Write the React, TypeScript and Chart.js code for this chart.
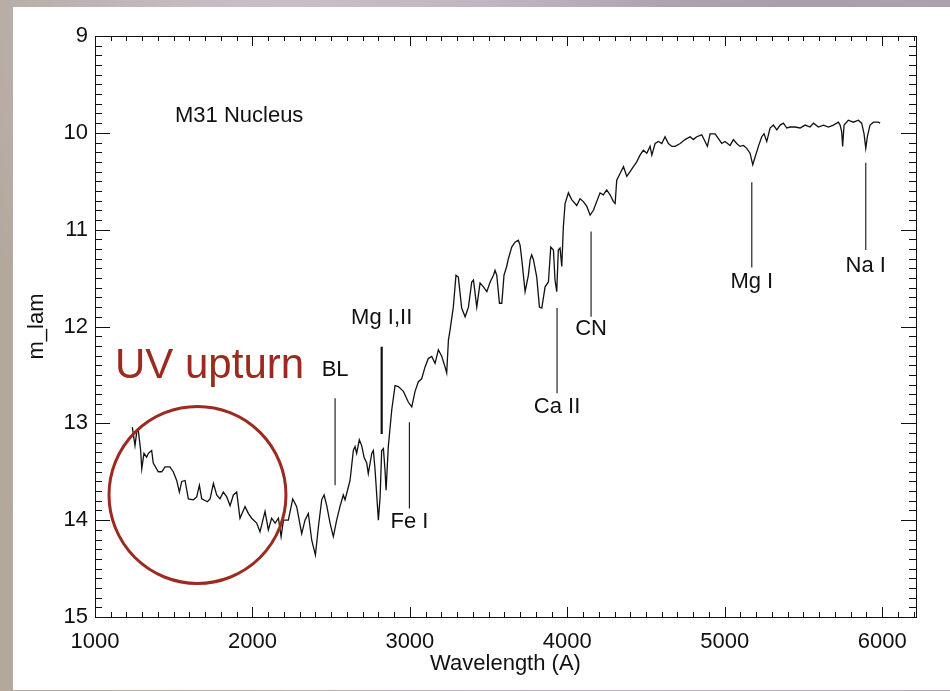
import React, { useEffect, useRef } from "react";
import { Chart, registerables } from "chart.js";

Chart.register(...registerables);

// ---- data ----
const wavelengths = [
  1237, 1254, 1265, 1275, 1290, 1297, 1311, 1328, 1339, 1360, 1370, 1402, 1424, 1445, 1476, 1497,
  1519, 1536, 1551, 1572, 1593, 1625, 1646, 1663, 1678, 1714, 1731, 1752, 1773, 1794, 1815, 1837,
  1858, 1879, 1900, 1921, 1953, 1974, 1995, 2027, 2048, 2080, 2101, 2122, 2144, 2165, 2182, 2197,
  2228, 2256, 2281, 2313, 2334, 2355, 2377, 2400, 2419, 2440, 2455, 2472, 2493, 2514, 2535, 2556,
  2577, 2588, 2609, 2620, 2641, 2652, 2662, 2679, 2694, 2709, 2726, 2736, 2758, 2768, 2779, 2800,
  2811, 2821, 2832, 2842, 2849, 2863, 2885, 2906, 2927, 2959, 2990, 3012, 3033, 3054, 3075, 3096,
  3117, 3139, 3160, 3181, 3203, 3224, 3234, 3245, 3255, 3276, 3293, 3308, 3329, 3351, 3372, 3393,
  3404, 3425, 3446, 3467, 3489, 3510, 3531, 3541, 3552, 3569, 3584, 3598, 3615, 3626, 3647, 3668,
  3689, 3700, 3711, 3732, 3753, 3764, 3774, 3785, 3806, 3823, 3838, 3859, 3880, 3895, 3912, 3922,
  3933, 3943, 3954, 3965, 3975, 3986, 4007, 4028, 4060, 4081, 4102, 4124, 4145, 4166, 4187, 4208,
  4229, 4250, 4272, 4293, 4304, 4314, 4335, 4357, 4378, 4399, 4420, 4441, 4462, 4483, 4505, 4526,
  4537, 4558, 4579, 4600, 4621, 4642, 4664, 4685, 4717, 4748, 4780, 4801, 4822, 4854, 4875, 4890,
  4907, 4939, 4960, 4981, 5002, 5034, 5055, 5076, 5097, 5119, 5140, 5161, 5178, 5193, 5214, 5235,
  5250, 5267, 5288, 5309, 5331, 5352, 5373, 5394, 5415, 5447, 5479, 5511, 5542, 5564, 5595, 5627,
  5659, 5690, 5722, 5733, 5743, 5749, 5758, 5785, 5817, 5849, 5870, 5885, 5896, 5906, 5923, 5945,
  5976, 5987,
];
const magnitudes = [
  13.04, 13.23, 13.09, 13.07, 13.28, 13.47, 13.31, 13.35, 13.31, 13.28, 13.41, 13.5, 13.5, 13.45, 13.45, 13.5,
  13.59, 13.71, 13.6, 13.59, 13.78, 13.79, 13.76, 13.64, 13.78, 13.81, 13.78, 13.62, 13.74, 13.78, 13.71, 13.76,
  13.85, 13.74, 13.71, 13.98, 13.86, 13.93, 13.98, 14.03, 14.12, 13.91, 14.1, 13.98, 14.03, 13.98, 14.17, 14.0,
  14.0, 13.78, 13.86, 14.14, 14.0, 13.93, 14.21, 14.36, 14.07, 13.79, 13.74, 13.85, 14.03, 14.17, 14.0, 13.86,
  13.74, 13.79, 13.66, 13.59, 13.28, 13.24, 13.31, 13.17, 13.23, 13.35, 13.41, 13.52, 13.31, 13.28, 13.48, 14.0,
  13.76, 13.28, 13.26, 13.48, 13.69, 13.24, 12.86, 12.61, 12.62, 12.67, 12.78, 12.83, 12.67, 12.57, 12.54, 12.42,
  12.33, 12.31, 12.38, 12.24, 12.31, 12.42, 12.48, 12.14, 12.04, 11.8, 11.47, 11.49, 11.81, 11.9, 11.8, 11.54,
  11.52, 11.8, 11.55, 11.59, 11.64, 11.54, 11.47, 11.42, 11.47, 11.76, 11.76, 11.47, 11.38, 11.3, 11.18, 11.13,
  11.11, 11.16, 11.31, 11.64, 11.47, 11.31, 11.26, 11.31, 11.49, 11.8, 11.81, 11.59, 11.54, 11.18, 11.21, 11.52,
  11.64, 11.21, 11.19, 11.38, 10.97, 10.73, 10.62, 10.69, 10.75, 10.68, 10.71, 10.76, 10.85, 10.8, 10.71, 10.62,
  10.64, 10.59, 10.64, 10.71, 10.73, 10.49, 10.42, 10.35, 10.45, 10.4, 10.35, 10.3, 10.23, 10.18, 10.21, 10.14,
  10.23, 10.11, 10.09, 10.11, 10.04, 10.11, 10.14, 10.14, 10.11, 10.07, 10.04, 10.07, 10.04, 10.02, 10.09, 10.14,
  10.01, 10.01, 10.06, 10.11, 10.09, 10.13, 10.07, 10.11, 10.14, 10.13, 10.16, 10.21, 10.33, 10.25, 10.14, 10.04,
  10.01, 10.09, 9.95, 9.92, 9.97, 9.92, 9.9, 9.95, 9.94, 9.94, 9.95, 9.92, 9.94, 9.9, 9.94, 9.92,
  9.94, 9.92, 9.89, 9.92, 9.99, 10.14, 9.92, 9.87, 9.89, 9.87, 9.9, 10.01, 10.16, 10.04, 9.92, 9.89,
  9.89, 9.9,
];

const xTickLabels = [1000, 2000, 3000, 4000, 5000, 6000];
const yTickLabels = [9, 10, 11, 12, 13, 14, 15];

const lineNames = ["BL", "Mg I,II", "Fe I", "Ca II", "CN", "Mg I", "Na I"];
const lineWaves = [2525, 2821, 2997, 3935, 4151, 5172, 5896];
const lineTops = [12.74, 12.21, 12.99, 11.81, 11.02, 10.51, 10.31];
const lineBottoms = [13.64, 13.11, 13.88, 12.69, 11.9, 11.39, 11.21];
const labelMags = [12.45, 11.91, 14.02, 12.83, 12.03, 11.54, 11.37];

const titleText = "M31 Nucleus";
const titlePos = [1508, 9.83];
const upturnText = "UV upturn";
const upturnPos = [1127, 12.533];
const circleCenter = [1651, 13.74];
const circleRadiusWave = 562;

const FONT = "'Liberation Sans', Arial, Helvetica, sans-serif";
const RED = "#9b2a1f";
const INK = "#111111";

const decorPlugin = {
  id: "decor",
  afterDatasetsDraw(chart: any) {
    const { ctx, chartArea: a, scales } = chart;
    const x = scales.x;
    const y = scales.y;
    ctx.save();
    ctx.strokeStyle = INK;
    ctx.lineWidth = 1;
    // frame
    ctx.strokeRect(Math.round(a.left) + 0.5, Math.round(a.top) + 0.5, Math.round(a.right - a.left), Math.round(a.bottom - a.top));
    // x ticks (bottom & top, inward)
    ctx.beginPath();
    for (let i = 0; i <= 52; i++) {
      const v = 1000 + i * 100;
      const px = Math.round(x.getPixelForValue(v)) + 0.5;
      const len = i % 10 === 0 ? 10 : 5;
      ctx.moveTo(px, a.bottom);
      ctx.lineTo(px, a.bottom - len);
      ctx.moveTo(px, a.top);
      ctx.lineTo(px, a.top + len);
    }
    // y ticks (left & right, inward)
    for (let i = 0; i <= 60; i++) {
      const v = 9 + i / 10;
      const py = Math.round(y.getPixelForValue(v)) + 0.5;
      const len = i % 10 === 0 ? 15 : 7;
      ctx.moveTo(a.left, py);
      ctx.lineTo(a.left + len, py);
      ctx.moveTo(a.right, py);
      ctx.lineTo(a.right - len, py);
    }
    ctx.stroke();

    // line labels
    ctx.fillStyle = INK;
    ctx.font = `22px ${FONT}`;
    ctx.textAlign = "center";
    ctx.textBaseline = "middle";
    lineNames.forEach((n, i) => {
      ctx.fillText(n, x.getPixelForValue(lineWaves[i]), y.getPixelForValue(labelMags[i]));
    });
    // title text
    ctx.textAlign = "left";
    ctx.fillText(titleText, x.getPixelForValue(titlePos[0]), y.getPixelForValue(titlePos[1]));

    // UV upturn
    ctx.fillStyle = RED;
    ctx.font = `42px ${FONT}`;
    ctx.textBaseline = "alphabetic";
    ctx.fillText(upturnText, x.getPixelForValue(upturnPos[0]), y.getPixelForValue(upturnPos[1]));

    // circle
    const cx = x.getPixelForValue(circleCenter[0]);
    const cy = y.getPixelForValue(circleCenter[1]);
    const r = Math.abs(x.getPixelForValue(circleCenter[0] + circleRadiusWave) - cx);
    ctx.strokeStyle = RED;
    ctx.lineWidth = 3;
    ctx.beginPath();
    ctx.arc(cx, cy, r, 0, Math.PI * 2);
    ctx.stroke();
    ctx.restore();
  },
};

export default function App() {
  const ref = useRef<HTMLCanvasElement | null>(null);

  useEffect(() => {
    if (!ref.current) return;
    const spectrum = wavelengths.map((w, i) => ({ x: w, y: magnitudes[i] }));
    const markerSets = lineNames.map((n, i) => ({
      label: n,
      data: [
        { x: lineWaves[i], y: lineTops[i] },
        { x: lineWaves[i], y: lineBottoms[i] },
      ],
      borderColor: INK,
      borderWidth: n === "Mg I,II" ? 2.2 : 1.1,
      pointRadius: 0,
      tension: 0,
    }));
    const chart = new Chart(ref.current, {
      type: "line",
      data: {
        datasets: [
          {
            label: "M31 Nucleus",
            data: spectrum,
            borderColor: INK,
            borderWidth: 1.3,
            pointRadius: 0,
            tension: 0,
          },
          ...markerSets,
        ],
      },
      options: {
        responsive: false,
        animation: false,
        devicePixelRatio: 1,
        layout: { padding: { top: 29, right: 34, left: 0, bottom: 0 } },
        plugins: { legend: { display: false }, tooltip: { enabled: false } },
        scales: {
          x: {
            type: "linear",
            min: 1000,
            max: 6215,
            grid: { display: false, drawTicks: false },
            border: { display: false },
            afterBuildTicks: (s: any) => {
              s.ticks = xTickLabels.map((v) => ({ value: v }));
            },
            ticks: {
              autoSkip: false,
              maxRotation: 0,
              minRotation: 0,
              padding: 12,
              color: INK,
              font: { size: 22, family: FONT },
              callback: (v: any) => String(v),
            },
            title: {
              display: true,
              text: "Wavelength (A)",
              color: INK,
              font: { size: 22, family: FONT },
              padding: { top: 0, bottom: 13 },
            },
            afterFit: (s: any) => {
              s.height = 73;
            },
          },
          y: {
            type: "linear",
            min: 9,
            max: 15,
            reverse: true,
            grid: { display: false, drawTicks: false },
            border: { display: false },
            afterBuildTicks: (s: any) => {
              s.ticks = yTickLabels.map((v) => ({ value: v }));
            },
            ticks: {
              autoSkip: false,
              padding: 7,
              color: INK,
              font: { size: 22, family: FONT },
              callback: (v: any) => String(v),
            },
            title: {
              display: true,
              text: "m_lam",
              color: INK,
              font: { size: 22, family: FONT },
              padding: { top: 11, bottom: 0 },
            },
            afterFit: (s: any) => {
              s.width = 82;
            },
          },
        },
      },
      plugins: [decorPlugin],
    } as any);
    return () => chart.destroy();
  }, []);

  return (
    <div
      style={{
        position: "fixed",
        inset: 0,
        overflow: "hidden",
        background:
          "radial-gradient(ellipse at 30% 0%, #c9bfc9 0%, rgba(0,0,0,0) 40%), radial-gradient(ellipse at 85% 0%, #a99cad 0%, rgba(0,0,0,0) 35%), linear-gradient(90deg, #b4a79c 0%, #b8aca6 20%, #bcb0bb 50%, #b3a6b6 100%)",
      }}
    >
      <div
        style={{
          position: "absolute",
          left: 13,
          top: 7,
          width: 937,
          height: 683,
          background: "#ffffff",
        }}
      >
        <canvas ref={ref} width={937} height={683} style={{ display: "block", width: 937, height: 683 }} />
      </div>
    </div>
  );
}
